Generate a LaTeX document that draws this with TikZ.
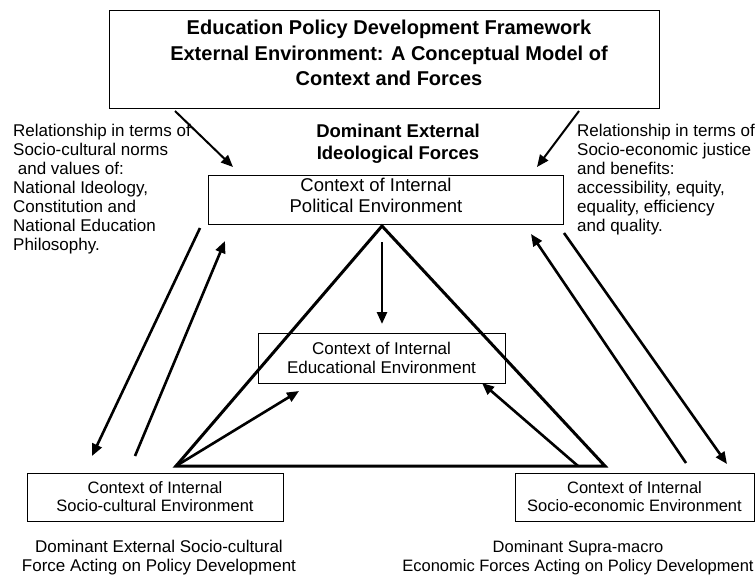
\documentclass[tikz,border=0pt]{standalone}
\usepackage{fontspec}
\setmainfont{Liberation Sans}
\usetikzlibrary{arrows.meta}
\begin{document}
\begin{tikzpicture}[x=1pt, y=-1pt]
        \tikzstyle{box}=[rectangle, draw=black, line width=1pt, inner sep=0pt]
        \tikzstyle{txt}=[font=\fontsize{17}{19}\selectfont, align=center, inner sep=0pt]
        \tikzstyle{bold}=[font=\fontsize{20}{25.5}\selectfont\bfseries, align=center, inner sep=0pt]
        \tikzstyle{side}=[font=\fontsize{17}{19}\selectfont, align=left, inner sep=0pt, anchor=north west]
        \tikzstyle{arr}=[black, line width=2.6pt, -{Triangle[length=12pt, width=10pt]}]
        \tikzstyle{edge}=[black, line width=3pt]

        \useasboundingbox (0,0) rectangle (755,576);

        \node (title) at (384,59) [box, minimum width=550pt, minimum height=98pt] {};
        \node (titletext) at (389,53) [bold] {Education Policy Development Framework\\ External Environment: A Conceptual Model of\\ Context and Forces};

        \node (ideo) at (398,144) [bold, font=\fontsize{18.5}{22}\selectfont\bfseries] {Dominant External\\ Ideological Forces};

        \node (political) at (385.5,199.5) [box, minimum width=355pt, minimum height=49pt] {};
        \node (poltext) at (376,195.5) [txt, font=\fontsize{18.5}{21}\selectfont] {Context of Internal\\ Political Environment};

        \node (educational) at (381.5,358) [box, txt, minimum width=247pt, minimum height=50pt] {Context of Internal\\ Educational Environment};
        \node (cultural) at (155,497) [box, txt, font=\fontsize{16.5}{18}\selectfont, minimum width=256pt, minimum height=48pt] {Context of Internal\\ Socio-cultural Environment};
        \node (economic) at (634.5,497) [box, txt, font=\fontsize{16.5}{18}\selectfont, minimum width=239pt, minimum height=48pt] {Context of Internal\\ Socio-economic Environment};

        \node (normstext) at (13,124) [side] {Relationship in terms of\\ Socio-cultural norms\\ \ and values of:\\ National Ideology,\\ Constitution and\\ National Education\\ Philosophy.};
        \node (justicetext) at (577,124) [side] {Relationship in terms of\\ Socio-economic justice\\ and benefits:\\ accessibility, equity,\\ equality, efficiency\\ and quality.};

        \node (culturalforce) at (159,558) [txt] {Dominant External Socio-cultural\\ Force Acting on Policy Development};
        \node (economicforce) at (578,558) [txt, font=\fontsize{16.5}{19}\selectfont] {Dominant Supra-macro\\ Economic Forces Acting on Policy Development};

        \coordinate (apex) at (382,226);
        \coordinate (triL) at (176,466);
        \coordinate (triR) at (605,466);
        \coordinate (tl1) at (175,111);  \coordinate (tl2) at (233,167);
        \coordinate (tr1) at (579,111);  \coordinate (tr2) at (537,167);
        \coordinate (ls1) at (200,228);  \coordinate (ls2) at (92,456);
        \coordinate (lu1) at (135,456);  \coordinate (lu2) at (225,241);
        \coordinate (ru1) at (686,463);  \coordinate (ru2) at (531,234);
        \coordinate (rs1) at (564,233);  \coordinate (rs2) at (727,464);
        \coordinate (down1) at (382,242); \coordinate (down2) at (382,324);
        \coordinate (el) at (299,391);
        \coordinate (eb) at (578,466);
        \coordinate (er) at (482,383);

        \draw[edge, line join=miter] (apex) -- (triL) -- (triR) -- cycle;

        \draw[arr, line width=2pt] (tl1) -- (tl2);
        \draw[arr, line width=2pt] (tr1) -- (tr2);
        \draw[arr] (down1) -- (down2);
        \draw[arr] (triL) -- (el);
        \draw[arr] (eb) -- (er);

        \draw[arr] (ls1) -- (ls2);
        \draw[arr] (lu1) -- (lu2);
        \draw[arr] (ru1) -- (ru2);
        \draw[arr] (rs1) -- (rs2);
    \end{tikzpicture}
\end{document}
